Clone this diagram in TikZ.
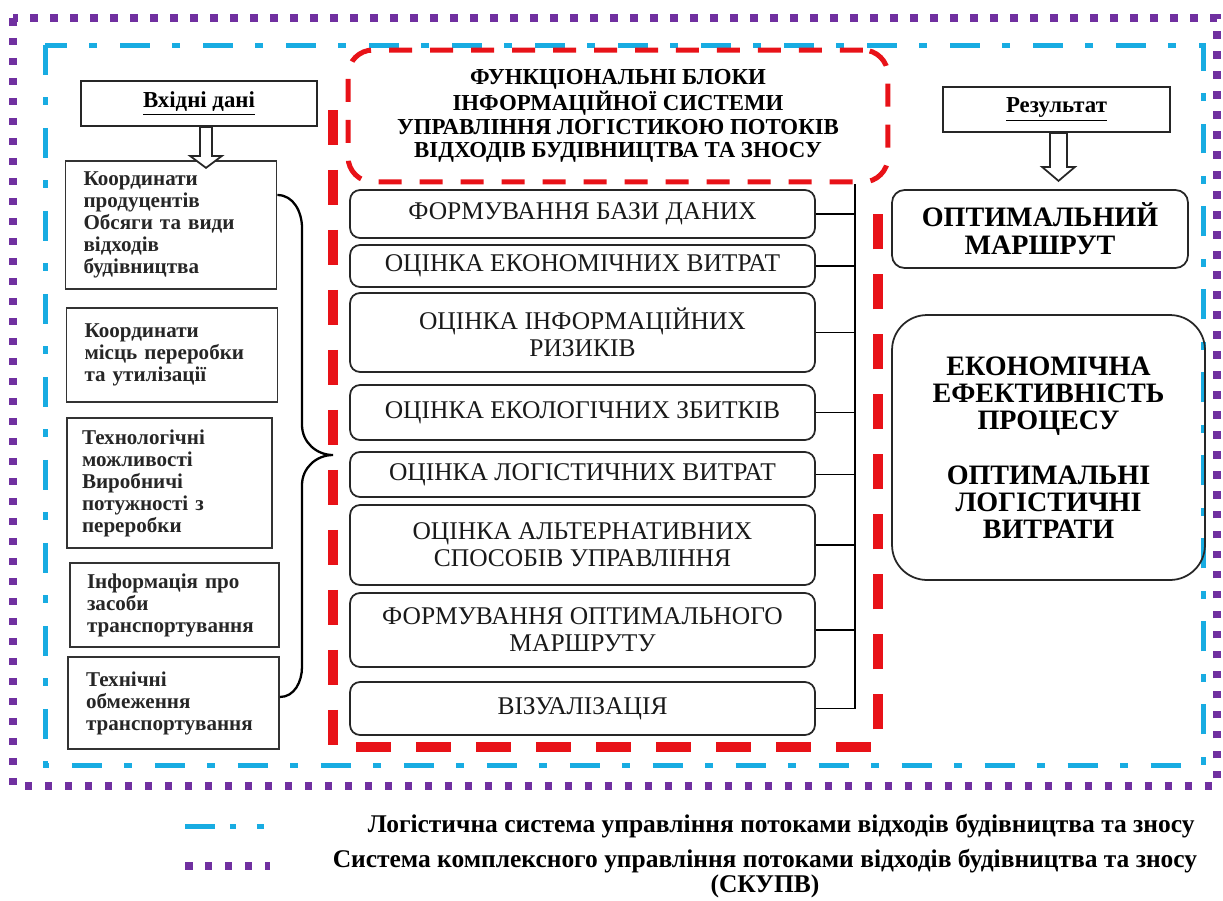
\documentclass[tikz,border=0pt]{standalone}
\usepackage{fontspec}
\setmainfont{Liberation Serif}
\usetikzlibrary{positioning}
\definecolor{framered}{RGB}{232,18,24}
\definecolor{frameblue}{RGB}{24,172,226}
\definecolor{framepurple}{RGB}{112,48,160}

\begin{document}
\begin{tikzpicture}[x=0.02cm, y=-0.02cm, node distance=1cm]
    % Define node styles
    \tikzstyle{inbox} = [draw=black!80, line width=1pt, align=left, text width=3.5cm, minimum width=4.22cm, inner sep=0pt, text=black!85, font=\bfseries\fontsize{12}{12.5}\selectfont]
    \tikzstyle{headbox} = [draw=black!85, line width=1pt, minimum height=0.9cm, font=\bfseries\fontsize{13}{14}\selectfont]
    \tikzstyle{block} = [draw=black!85, line width=1pt, rounded corners=0.2cm, minimum width=9.3cm, align=center, text=black!90, font=\fontsize{14.5}{15.5}\selectfont]
    \tikzstyle{outbox} = [draw=black!85, line width=1pt, align=center, font=\bfseries\fontsize{16}{16}\selectfont]
    \tikzstyle{hollow} = [draw=black!85, line width=1pt, fill=white]
    \tikzstyle{purpleframe} = [draw=framepurple, line width=0.15cm, dash pattern=on 0.15cm off 0.25cm]
    \tikzstyle{blueframe} = [draw=frameblue, line width=0.1cm, dash pattern=on 0.6cm off 0.45cm on 0.16cm off 0.45cm]
    \tikzstyle{redthick} = [draw=framered, line width=0.2cm, dash pattern=on 0.7cm off 0.5cm]
    \tikzstyle{redthin} = [draw=framered, line width=0.1cm, dash pattern=on 0.46cm off 0.36cm, rounded corners=0.5cm]
    \tikzstyle{legendtext} = [font=\bfseries\fontsize{14.5}{12}\selectfont, inner sep=0pt]

    \useasboundingbox (0,0) rectangle (1223,900);

    % Frames
    \draw[purpleframe] (13,18) rectangle (1217,786);
    \draw[blueframe] (45,45) rectangle (1203,765);
    \draw[redthick] (333,110) -- (333,747) -- (878,747) -- (878,200);

    % Input data
    \node[headbox, minimum width=4.72cm] (inp) at (199,103.5) {\underline{Вхідні дані}};
    \node[inbox, minimum height=2.56cm] (inA) at (171,225) {Координати\\продуцентів\\Обсяги та види\\відходів\\будівництва};
    \node[inbox, minimum height=1.88cm] (inB) at (172,355) {Координати\\місць переробки\\та утилізації};
    \node[inbox, minimum width=4.1cm, minimum height=2.6cm] (inC) at (169.5,483) {Технологічні\\можливості\\Виробничі\\потужності з\\переробки};
    \node[inbox, minimum width=4.18cm, minimum height=1.68cm] (inD) at (174.5,605) {Інформація про\\засоби\\транспортування};
    \node[inbox, minimum height=1.84cm] (inE) at (173.5,703) {Технічні\\обмеження\\транспортування};

    % Functional blocks
    \node[redthin, minimum width=10.8cm, minimum height=2.64cm, align=center, font=\bfseries\fontsize{13}{13.2}\selectfont] (head) at (618,116) {ФУНКЦІОНАЛЬНІ БЛОКИ\\ІНФОРМАЦІЙНОЇ СИСТЕМИ\\УПРАВЛІННЯ ЛОГІСТИКОЮ ПОТОКІВ\\ВІДХОДІВ БУДІВНИЦТВА ТА ЗНОСУ};
    \node[block, minimum height=0.96cm] (f1) at (582.5,214) {ФОРМУВАННЯ БАЗИ ДАНИХ};
    \node[block, minimum height=0.84cm] (f2) at (582.5,266) {ОЦІНКА ЕКОНОМІЧНИХ ВИТРАТ};
    \node[block, minimum height=1.58cm] (f3) at (582.5,332.5) {ОЦІНКА ІНФОРМАЦІЙНИХ\\РИЗИКІВ};
    \node[block, minimum height=1.1cm] (f4) at (582.5,412.5) {ОЦІНКА ЕКОЛОГІЧНИХ ЗБИТКІВ};
    \node[block, minimum height=0.9cm] (f5) at (582.5,474.5) {ОЦІНКА ЛОГІСТИЧНИХ ВИТРАТ};
    \node[block, minimum height=1.6cm] (f6) at (582.5,545) {ОЦІНКА АЛЬТЕРНАТИВНИХ\\СПОСОБІВ УПРАВЛІННЯ};
    \node[block, minimum height=1.48cm] (f7) at (582.5,630) {ФОРМУВАННЯ ОПТИМАЛЬНОГО\\МАРШРУТУ};
    \node[block, minimum height=1.06cm] (f8) at (582.5,708.5) {ВІЗУАЛІЗАЦІЯ};

    % Result
    \node[headbox, minimum width=4.54cm] (res) at (1056.5,109.5) {\underline{Результат}};
    \node[outbox, rounded corners=0.25cm, minimum width=5.92cm, minimum height=1.56cm] (route) at (1040,229) {ОПТИМАЛЬНИЙ\\МАРШРУТ};
    \node[outbox, rounded corners=0.7cm, minimum width=6.26cm, minimum height=5.3cm, font=\bfseries\fontsize{16}{15.5}\selectfont] (eff) at (1048.5,447.5) {ЕКОНОМІЧНА\\ЕФЕКТИВНІСТЬ\\ПРОЦЕСУ\\[15.5pt]ОПТИМАЛЬНІ\\ЛОГІСТИЧНІ\\ВИТРАТИ};

    % Arrows
    \draw[hollow] ([xshift=0.02cm]inp.south) -- ++(12,0) -- ++(0,29) -- ++(10,0) -- ++(-16,12) -- ++(-16,-12) -- ++(10,0) -- cycle;
    \draw[hollow] ([xshift=-0.13cm]res.south) -- ++(17,0) -- ++(0,34) -- ++(8,0) -- ++(-16.5,14) -- ++(-16.5,-14) -- ++(8,0) -- cycle;

    % Brace
    \coordinate (bt) at (inA.east |- 0,195);
    \coordinate (bb) at (inE.east |- 0,697);
    \draw[line width=1.3pt] (bt) to[out=0,in=90] (302,228) -- (302,425) to[out=-90,in=180] (333,455) to[out=180,in=90] (302,485) -- (302,667) to[out=-90,in=0] (bb);

    % Edges
    \coordinate (busx) at (855,0);
    \draw[line width=1pt] (head.south -| busx) -- (f8.east -| busx);
    \draw[line width=1pt] (f1.east) -- (f1.east -| busx);
    \draw[line width=1pt] (f2.east) -- (f2.east -| busx);
    \draw[line width=1pt] (f3.east) -- (f3.east -| busx);
    \draw[line width=1pt] (f4.east) -- (f4.east -| busx);
    \draw[line width=1pt] (f5.east) -- (f5.east -| busx);
    \draw[line width=1pt] (f6.east) -- (f6.east -| busx);
    \draw[line width=1pt] (f7.east) -- (f7.east -| busx);
    \draw[line width=1pt] (f8.east) -- (f8.east -| busx);

    % Legend
    \draw[draw=frameblue, line width=0.1cm, dash pattern=on 0.6cm off 0.3cm on 0.12cm off 0.42cm on 0.14cm off 1cm] (185,826) -- (265,826);
    \draw[purpleframe] (185,866) -- (270,866);
    \node[legendtext, anchor=east] (lg1) at (1195,826) {Логістична система управління потоками відходів будівництва та зносу};
    \node[legendtext, align=center] (lg2) at (765,874) {Система комплексного управління потоками відходів будівництва та зносу\\(СКУПВ)};
\end{tikzpicture}
\end{document}
